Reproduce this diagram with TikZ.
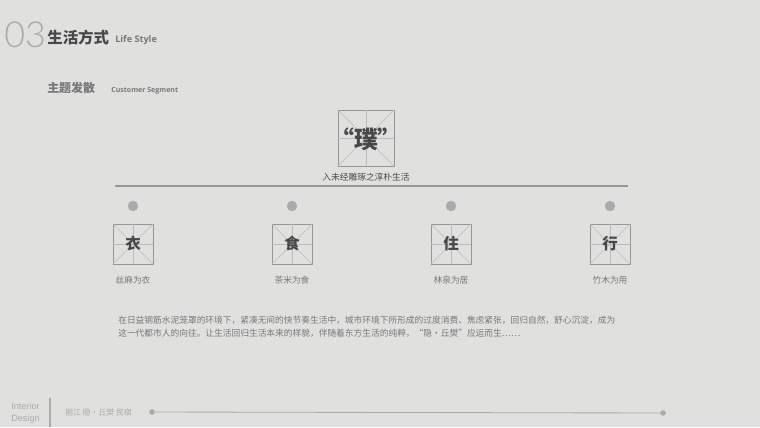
\documentclass[tikz,border=0pt]{standalone}
\usepackage{fontspec}
\newfontfamily\cjk{Noto Sans CJK SC}
\newfontfamily\lsans{Open Sans}
\newfontfamily\thinfont{Lato Light}
\newfontfamily\plain{Liberation Sans}
\definecolor{paper}{RGB}{224,224,223}
\definecolor{ink}{RGB}{72,72,72}
\definecolor{midgrey}{RGB}{120,120,120}
\definecolor{frame}{RGB}{150,150,150}
\definecolor{dotgrey}{RGB}{170,170,170}
\definecolor{faint}{RGB}{188,188,188}
\begin{document}
\begin{tikzpicture}[x=0.025cm,y=-0.025cm]
                \tikzstyle{gridbox}=[rectangle,draw=frame,line width=0.6pt,inner sep=0pt]
                \tikzstyle{guide}=[draw=faint,line width=0.3pt]
                \tikzstyle{dot}=[circle,fill=dotgrey,minimum size=0.26cm,inner sep=0pt]
                \tikzstyle{caption}=[font=\cjk\fontsize{6.2}{8}\selectfont,text=midgrey,inner sep=0pt]
                \fill[paper] (0,0) rectangle (760,427);
                \useasboundingbox (0,0) rectangle (760,427);

                % title
                \node[anchor=base west,inner sep=0pt,text=dotgrey,font=\thinfont\fontsize{25.5}{26}\selectfont] (num) at (4,48) {03};
                \node[anchor=base west,inner sep=0pt,text=ink,font=\cjk\bfseries\fontsize{11}{12}\selectfont] (title) at (47,44) {生活方式};
                \node[anchor=base west,inner sep=0pt,text=midgrey,font=\lsans\bfseries\fontsize{6.5}{8}\selectfont] (entitle) at (115,43) {Life Style};
                \node[anchor=base west,inner sep=0pt,text=midgrey,font=\cjk\bfseries\fontsize{8.5}{10}\selectfont] (sub) at (47,93) {主题发散};
                \node[anchor=base west,inner sep=0pt,text=midgrey,font=\lsans\bfseries\fontsize{5}{6}\selectfont] (ensub) at (111,92) {Customer Segment};

                % main box
                \node[gridbox,minimum size=1.4cm] (pu) at (366,138) {};
                \draw[guide] (pu.north) -- (pu.south);
                \draw[guide] (pu.west) -- (pu.east);
                \draw[guide] (pu.north west) -- (pu.south east);
                \draw[guide] (pu.north east) -- (pu.south west);
                \node[text=ink,font=\cjk\bfseries\fontsize{17}{18}\selectfont,inner sep=0pt] (puchar) at (366,139) {“璞”};
                \node[caption,text=ink] (putext) at (366,177) {入未经雕琢之淳朴生活};
                \coordinate (l1) at (115,186);
                \coordinate (l2) at (628,186);
                \draw[draw=frame,line width=1.1pt] (l1) -- (l2);

                % four boxes
                \foreach \num/\x/\ch/\txt in {1/133/衣/丝麻为衣, 2/292/食/茶米为食, 3/451/住/林泉为居, 4/610/行/竹木为用}
                {
                        \node[dot] (D-\num) at (\x,206) {};
                        \node[gridbox,minimum size=1cm] (B-\num) at (\x,244) {};
                        \draw[guide] (B-\num.north) -- (B-\num.south);
                        \draw[guide] (B-\num.west) -- (B-\num.east);
                        \draw[guide] (B-\num.north west) -- (B-\num.south east);
                        \draw[guide] (B-\num.north east) -- (B-\num.south west);
                        \node[text=ink,font=\cjk\bfseries\fontsize{11}{12}\selectfont,inner sep=0pt] (C-\num) at (\x,244) {\ch};
                        \node[caption] (L-\num) at (\x,280) {\txt};
                }

                % paragraph
                \node[caption,anchor=west] (p1) at (118,320) {在日益钢筋水泥笼罩的环境下，紧凑无间的快节奏生活中，城市环境下所形成的过度消费、焦虑紧张，回归自然，舒心沉淀，成为};
                \node[caption,anchor=west] (p2) at (118,333) {这一代都市人的向往。让生活回归生活本来的样貌，伴随着东方生活的纯粹，“隐·丘樊”应运而生……};

                % footer
                \coordinate (v1) at (50,398);
                \coordinate (v2) at (50,427);
                \draw[draw=dotgrey,line width=0.8pt] (v1) -- (v2);
                \node[anchor=base west,inner sep=0pt,text=dotgrey,font=\plain\fontsize{6.5}{8}\selectfont] (int) at (11,409) {Interior};
                \node[anchor=base west,inner sep=0pt,text=dotgrey,font=\plain\fontsize{6.5}{8}\selectfont] (des) at (11,421) {Design};
                \node[anchor=west,inner sep=0pt,text=dotgrey,font=\cjk\fontsize{5.6}{7}\selectfont] (foot) at (65,412) {丽江 隐·丘樊 民宿};
                \node[circle,fill=dotgrey,minimum size=0.14cm,inner sep=0pt] (f1) at (152,412) {};
                \node[circle,fill=dotgrey,minimum size=0.14cm,inner sep=0pt] (f2) at (663,413) {};
                \draw[draw=dotgrey,line width=0.6pt] (f1) -- (f2);
\end{tikzpicture}
\end{document}
